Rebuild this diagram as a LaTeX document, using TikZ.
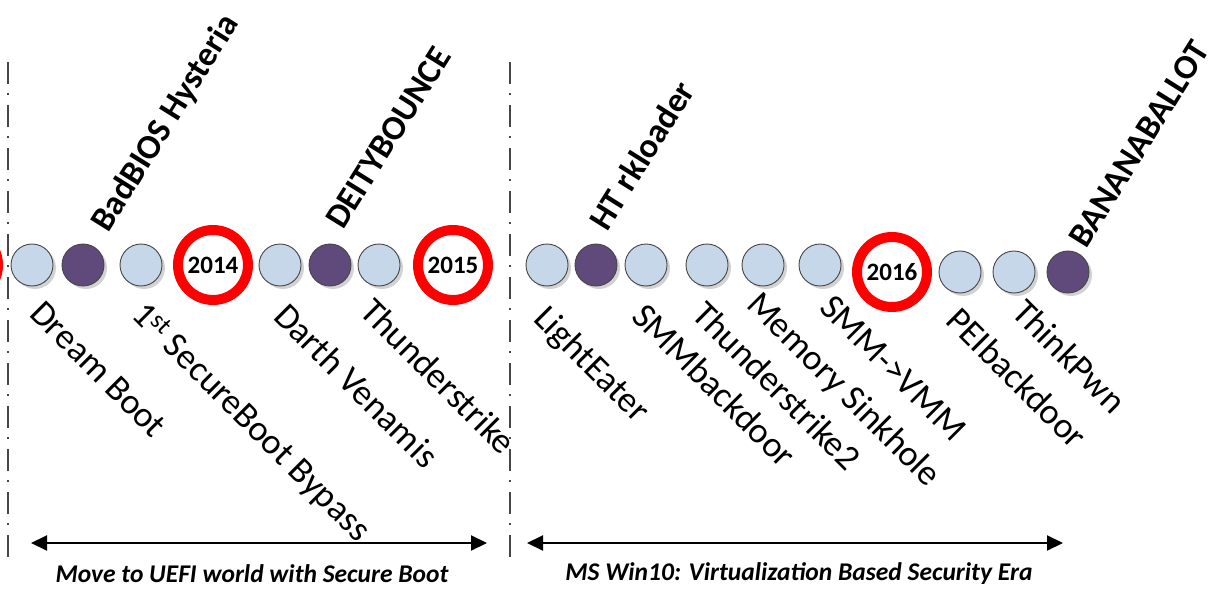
\documentclass[tikz,border=0pt]{standalone}
\usepackage{fontspec}
\setmainfont{Carlito}
\usepackage{tikz}
\usetikzlibrary{arrows.meta,shadows}
\definecolor{evtblue}{RGB}{197,215,233}
\definecolor{evtpurple}{RGB}{96,74,123}
\definecolor{ringred}{RGB}{255,0,0}
\definecolor{rimgray}{RGB}{70,70,70}

\begin{document}
\begin{tikzpicture}[x=1pt, y=-1pt,
    evt/.style={circle, draw=rimgray, line width=0.9pt, fill=evtblue,
        minimum size=42pt, inner sep=0pt,
        drop shadow={shadow xshift=3pt, shadow yshift=-3pt, fill=black!22, opacity=0.8}},
    hack/.style={evt, fill=evtpurple},
    yearring/.style={circle, draw=ringred, line width=10pt, fill=white,
        minimum size=70pt, inner sep=0pt, font=\fontsize{25}{25}\selectfont\bfseries,
        drop shadow={shadow xshift=3pt, shadow yshift=-3pt, fill=black!18, opacity=0.8}},
    uplbl/.style={rotate=58, anchor=base west, inner sep=0pt,
        font=\fontsize{34.5}{34.5}\selectfont\bfseries},
    dnlbl/.style={rotate=-45, anchor=base west, inner sep=0pt,
        font=\fontsize{36}{36}\selectfont},
    eraline/.style={dash pattern=on 22pt off 9pt on 2pt off 10pt, line width=1.5pt, rimgray},
    spanarr/.style={{Triangle[length=16pt,width=15pt]}-{Triangle[length=16pt,width=15pt]},
        line width=2pt},
    eratxt/.style={font=\fontsize{25.5}{25.5}\selectfont\bfseries\itshape}
]
    \useasboundingbox (0,0) rectangle (1216,591);

    % Era separators
    \coordinate (s1a) at (8,62);   \coordinate (s1b) at (8,560);
    \coordinate (s2a) at (510,62); \coordinate (s2b) at (510,560);
    \draw[eraline] (s1a) -- (s1b);
    \draw[eraline] (s2a) -- (s2b);

    % Years
    \node[yearring] (y2013) at (-37,265) {};
    \node[yearring] (y2014) at (213,265) {2014};
    \node[yearring] (y2015) at (453,265) {2015};
    \node[yearring] (y2016) at (892,272) {2016};

    % Events, first era
    \node[evt]  (c1) at (32,265) {};
    \node[hack] (c2) at (83,265) {};
    \node[evt]  (c3) at (141,265) {};
    \node[evt]  (c4) at (280,265) {};
    \node[hack] (c5) at (330,265) {};
    \node[evt]  (c6) at (379,265) {};

    % Events, second era
    \node[evt]  (d1) at (547,265) {};
    \node[hack] (d2) at (596,265) {};
    \node[evt]  (d3) at (646,265) {};
    \node[evt]  (d4) at (707,265) {};
    \node[evt]  (d5) at (763,265) {};
    \node[evt]  (d6) at (820,265) {};
    \node[evt]  (d7) at (960,272) {};
    \node[evt]  (d8) at (1014,272) {};
    \node[hack] (d9) at (1068,272) {};

    % Hardware / agency implants above
    \node[uplbl] (u1) at (108,234) {BadBIOS Hysteria};
    \node[uplbl] (u2) at (343,231) {DEITYBOUNCE};
    \node[uplbl] (u3) at (607,233) {HT rkloader};
    \node[uplbl] (u4) at (1086,250) {BANANABALLOT};

    % Research below
    \node[dnlbl] (l1) at (28,315) {Dream Boot};
    \node[dnlbl] (l2) at (130,316) {1\textsuperscript{st} SecureBoot Bypass};
    \node[dnlbl] (l3) at (272,318) {Darth Venamis};
    \node[dnlbl] (l4) at (358,313) {Thunderstrike};
    \node[dnlbl] (l5) at (532,320) {LightEater};
    \node[dnlbl] (l6) at (630,318) {SMMbackdoor};
    \node[dnlbl] (l7) at (690,316) {Thunderstrike2};
    \node[dnlbl] (l8) at (745,306) {Memory Sinkhole};
    \node[dnlbl] (l9) at (818,309) {SMM->VMM};
    \node[dnlbl] (l10) at (944,322) {PEIbackdoor};
    \node[dnlbl] (l11) at (1010,314) {ThinkPwn};

    % Era spans
    \coordinate (e1a) at (31,543);  \coordinate (e1b) at (487,543);
    \coordinate (e2a) at (527,543); \coordinate (e2b) at (1063,543);
    \draw[spanarr] (e1a) -- (e1b);
    \draw[spanarr] (e2a) -- (e2b);
    \node[eratxt] (t1) at (252,574) {Move to UEFI world with Secure Boot};
    \node[eratxt] (t2) at (799,574) {MS Win10: Virtualization Based Security Era};
\end{tikzpicture}
\end{document}
